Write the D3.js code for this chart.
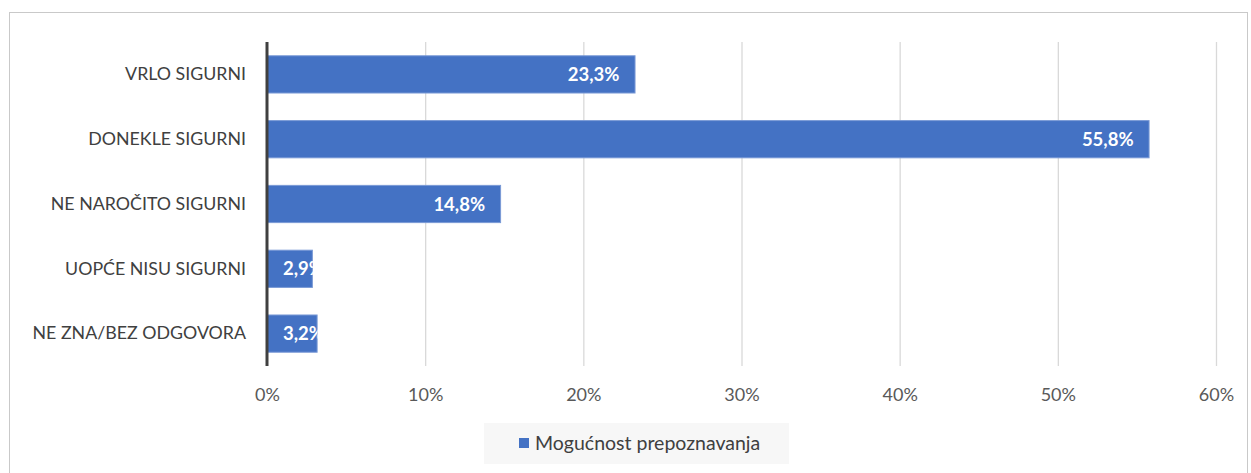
<!DOCTYPE html>
<html>
<head>
<meta charset="utf-8">
<script src="https://cdn.jsdelivr.net/npm/d3@7"></script>
<style>
body { margin: 0; background: #fff; }
svg { font-family: Lato, "Open Sans", sans-serif; }
</style>
</head>
<body>
<svg id="chart"></svg>
<script>
// data
var categories = ["VRLO SIGURNI", "DONEKLE SIGURNI", "NE NAROČITO SIGURNI", "UOPĆE NISU SIGURNI", "NE ZNA/BEZ ODGOVORA"];
var values = [23.3, 55.8, 14.8, 2.9, 3.2];
var ticks = [0, 10, 20, 30, 40, 50, 60];
var seriesName = "Mogućnost prepoznavanja";

var svgWidth = 1251, svgHeight = 473;
var svg = d3.select("#chart").attr("width", svgWidth).attr("height", svgHeight);

// outer border
svg.append("rect")
    .attr("x", 9.5).attr("y", 12.5)
    .attr("width", 1238).attr("height", 480)
    .attr("fill", "#fff").attr("stroke", "#c9c9c9");

var plotLeft = 267, plotRight = 1216, plotTop = 42, plotBottom = 366;

var xScale = d3.scaleLinear().domain([0, 60]).range([plotLeft, plotRight]);
var yScale = d3.scaleBand().domain(categories).range([plotTop, plotBottom]).paddingInner(0.41).paddingOuter(0.205);

// gridlines
svg.append("g").selectAll("line").data(ticks.slice(1)).join("line")
    .attr("x1", function(d) { return xScale(d) + 0.5; })
    .attr("x2", function(d) { return xScale(d) + 0.5; })
    .attr("y1", plotTop).attr("y2", plotBottom)
    .attr("stroke", "#d9d9d9").attr("stroke-width", 1.3);

// x axis labels
var x_axis = d3.axisBottom(xScale).tickValues(ticks).tickSize(0).tickFormat(function(d) { return d + "%"; });
var gx = svg.append("g").attr("transform", "translate(0," + plotBottom + ")").call(x_axis);
gx.select(".domain").remove();
gx.selectAll("text").attr("dy", 0).attr("y", 35).attr("fill", "#595959").style("font-size", "18px").style("font-family", "Lato, sans-serif");

// y axis labels
var y_axis = d3.axisLeft(yScale).tickSize(0).tickPadding(21);
var gy = svg.append("g").attr("transform", "translate(" + plotLeft + ",0)").call(y_axis);
gy.select(".domain").remove();
gy.selectAll("text").attr("fill", "#404040").style("font-size", "17.8px").style("font-family", "Lato, sans-serif");

// bars
var defs = svg.append("defs");
var barG = svg.append("g");
values.forEach(function(v, i) {
    var y = yScale(categories[i]);
    var x0 = xScale(0), x1 = xScale(v);
    defs.append("clipPath").attr("id", "clip" + i).append("rect")
        .attr("x", x0).attr("y", y).attr("width", x1 - x0).attr("height", yScale.bandwidth());
    barG.append("rect")
        .attr("x", x0 + 0.5).attr("y", y + 0.5)
        .attr("width", x1 - x0 - 1).attr("height", yScale.bandwidth() - 1)
        .attr("fill", "#4472c4").attr("stroke", "#7a9ad6").attr("stroke-width", 1);
    var label = barG.append("text")
        .attr("clip-path", "url(#clip" + i + ")")
        .attr("y", y + yScale.bandwidth() / 2)
        .attr("dy", "0.36em")
        .attr("fill", "#fff").attr("font-weight", "bold").style("font-size", "18.5px")
        .text(String(v.toFixed(1)).replace(".", ",") + "%");
    var w = label.node().getComputedTextLength();
    var tx = x1 - 16 - w;
    if (tx < x0 + 16) tx = x0 + 16;
    label.attr("x", tx);
});

// zero axis line
svg.append("line")
    .attr("x1", plotLeft).attr("x2", plotLeft)
    .attr("y1", plotTop).attr("y2", plotBottom)
    .attr("stroke", "#404040").attr("stroke-width", 3);

// legend
var lg = svg.append("g");
lg.append("rect").attr("x", 484).attr("y", 423).attr("width", 305).attr("height", 41).attr("fill", "#f7f7f7");
lg.append("rect").attr("x", 519).attr("y", 438).attr("width", 10).attr("height", 10).attr("fill", "#4472c4");
lg.append("text").attr("x", 535).attr("y", 450).attr("fill", "#404040").style("font-size", "19.5px").text(seriesName);
</script>
</body>
</html>
